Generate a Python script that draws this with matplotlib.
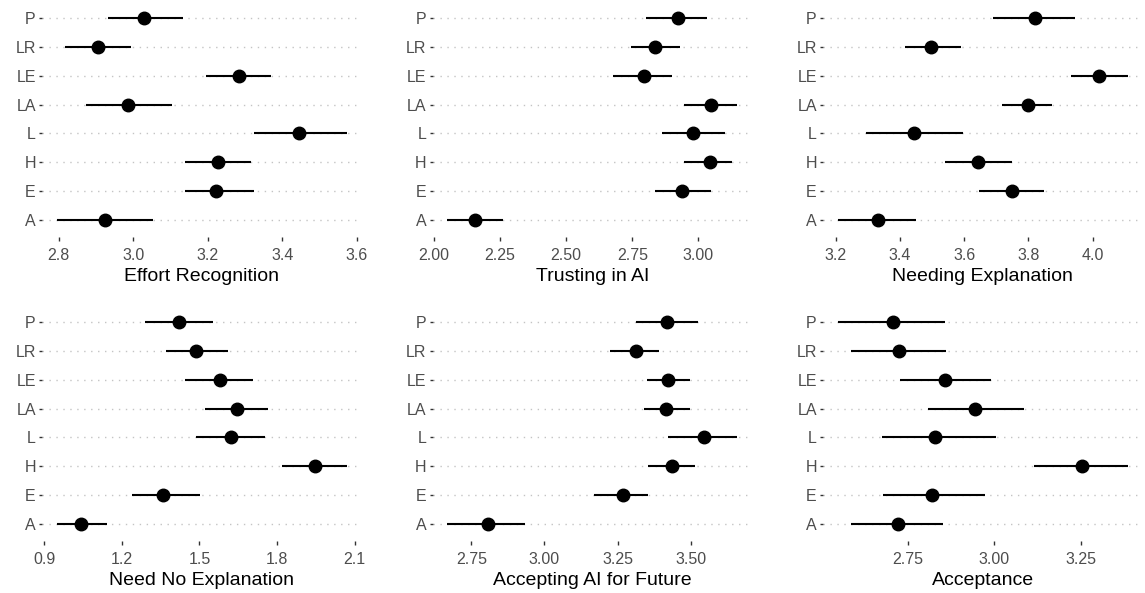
import matplotlib.pyplot as plt
import numpy as np

plt.rcParams['font.family'] = ['Liberation Sans', 'DejaVu Sans']

groups = ["A", "E", "H", "L", "LA", "LE", "LR", "P"]

# mean, lower, upper per group (A..P)
effort_mean = [2.925, 3.223, 3.228, 3.445, 2.985, 3.283, 2.904, 3.029]
effort_lo = [2.794, 3.139, 3.139, 3.325, 2.872, 3.195, 2.816, 2.931]
effort_hi = [3.052, 3.324, 3.315, 3.572, 3.104, 3.369, 2.993, 3.132]

trust_mean = [2.155, 2.937, 3.042, 2.981, 3.046, 2.793, 2.835, 2.921]
trust_lo = [2.051, 2.837, 2.946, 2.863, 2.946, 2.679, 2.744, 2.801]
trust_hi = [2.262, 3.046, 3.127, 3.100, 3.147, 2.900, 2.932, 3.033]

needexp_mean = [3.330, 3.748, 3.643, 3.444, 3.798, 4.021, 3.495, 3.822]
needexp_lo = [3.205, 3.646, 3.540, 3.293, 3.719, 3.933, 3.414, 3.690]
needexp_hi = [3.451, 3.849, 3.748, 3.596, 3.874, 4.109, 3.590, 3.946]

noexp_mean = [1.044, 1.360, 1.946, 1.620, 1.644, 1.580, 1.485, 1.422]
noexp_lo = [0.948, 1.239, 1.819, 1.486, 1.522, 1.445, 1.369, 1.289]
noexp_hi = [1.143, 1.501, 2.068, 1.755, 1.764, 1.706, 1.609, 1.553]

future_mean = [2.806, 3.268, 3.436, 3.544, 3.414, 3.421, 3.312, 3.420]
future_lo = [2.668, 3.168, 3.355, 3.423, 3.341, 3.349, 3.224, 3.313]
future_hi = [2.935, 3.353, 3.515, 3.659, 3.497, 3.499, 3.390, 3.526]

accept_mean = [2.723, 2.821, 3.254, 2.829, 2.945, 2.859, 2.726, 2.706]
accept_lo = [2.586, 2.678, 3.115, 2.676, 2.808, 2.728, 2.586, 2.547]
accept_hi = [2.852, 2.973, 3.385, 3.004, 3.087, 2.991, 2.861, 2.858]

panels = [
    ("Effort Recognition", effort_mean, effort_lo, effort_hi, [2.8, 3.0, 3.2, 3.4, 3.6], "{:.1f}"),
    ("Trusting in AI", trust_mean, trust_lo, trust_hi, [2.0, 2.25, 2.5, 2.75, 3.0], "{:.2f}"),
    ("Needing Explanation", needexp_mean, needexp_lo, needexp_hi, [3.2, 3.4, 3.6, 3.8, 4.0], "{:.1f}"),
    ("Need No Explanation", noexp_mean, noexp_lo, noexp_hi, [0.9, 1.2, 1.5, 1.8, 2.1], "{:.1f}"),
    ("Accepting AI for Future", future_mean, future_lo, future_hi, [2.75, 3.0, 3.25, 3.5], "{:.2f}"),
    ("Acceptance", accept_mean, accept_lo, accept_hi, [2.75, 3.0, 3.25], "{:.2f}"),
]

fig = plt.figure(figsize=(11.45, 5.93), dpi=100)
lefts = [0.0367, 0.378, 0.7188]
bottoms = [0.5998, 0.0872]
w, h = 0.2786, 0.399

y = np.arange(len(groups))
for k, (title, m, lo, hi, ticks, fmt) in enumerate(panels):
    ax = fig.add_axes([lefts[k % 3], bottoms[k // 3], w, h])
    lo = np.array(lo)
    hi = np.array(hi)
    span = hi.max() - lo.min()
    ax.set_xlim(lo.min() - 0.05 * span, hi.max() + 0.05 * span)
    ax.set_ylim(-0.6, len(groups) - 0.4)
    for yy in y:
        ax.axhline(yy, color="#c4c4c4", lw=1.0, ls=(0, (1, 4)), zorder=0)
    ax.hlines(y, lo, hi, color="black", lw=1.5, zorder=2)
    ax.plot(m, y, "o", color="black", ms=9, zorder=3)
    ax.set_yticks(y)
    ax.set_yticklabels(groups)
    ax.set_xticks(ticks)
    ax.set_xticklabels([fmt.format(t) for t in ticks])
    ax.tick_params(axis="y", length=2.5, width=1, color="#333333", pad=2,
                   labelsize=11.5, labelcolor="#4d4d4d")
    ax.tick_params(axis="x", length=3, width=1, color="#333333", pad=5,
                   labelsize=11.5, labelcolor="#4d4d4d")
    for s in ax.spines.values():
        s.set_visible(False)
    ax.set_xlabel(title, fontsize=14, labelpad=3)

fig.savefig("out.png", dpi=100)
